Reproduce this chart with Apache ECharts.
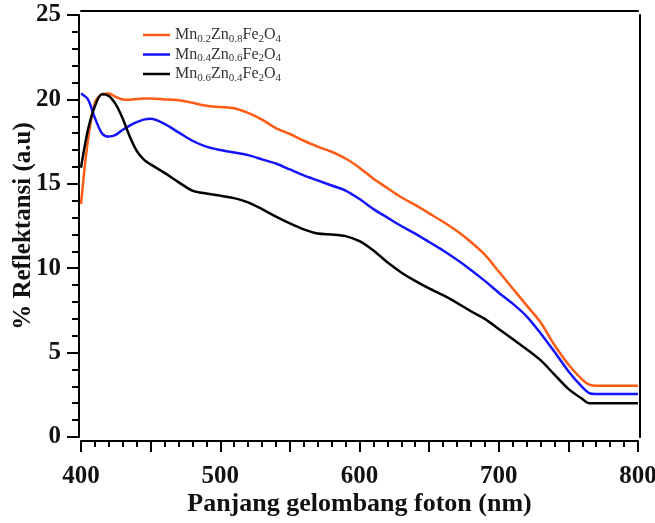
<!DOCTYPE html>
<html>
<head>
<meta charset="utf-8">
<script src="https://cdn.jsdelivr.net/npm/echarts@6/dist/echarts.min.js"></script>
<style>
  html, body { margin: 0; padding: 0; background: #fff; }
  #chart { width: 655px; height: 523px; }
</style>
</head>
<body>
<div id="chart"></div>
<script>
// Wavelength grid (nm)
const wavelengths = [400, 405, 410, 415, 420, 425, 430, 435, 440, 445, 450, 460, 470, 480, 490,
  500, 510, 520, 530, 540, 550, 560, 570, 580, 590, 600, 610, 620, 630, 640, 650, 660, 670, 680,
  690, 700, 710, 720, 730, 740, 750, 760, 765, 770, 780, 790, 800];

// Reflectance values (%)
const mn02 = [13.8, 17.6, 19.8, 20.3, 20.35, 20.15, 20.0, 19.98, 20.02, 20.05, 20.05, 20.0, 19.95,
  19.8, 19.62, 19.55, 19.48, 19.2, 18.8, 18.3, 17.95, 17.55, 17.2, 16.9, 16.5, 15.95, 15.3, 14.75,
  14.2, 13.75, 13.25, 12.75, 12.2, 11.55, 10.8, 9.8, 8.8, 7.8, 6.8, 5.45, 4.3, 3.4, 3.1, 3.03,
  3.03, 3.03, 3.03];
const mn04 = [20.35, 20.0, 18.9, 18.0, 17.8, 17.9, 18.2, 18.45, 18.65, 18.8, 18.85, 18.55, 18.05,
  17.55, 17.2, 17.0, 16.85, 16.7, 16.45, 16.2, 15.85, 15.5, 15.2, 14.9, 14.6, 14.1, 13.5, 13.0,
  12.5, 12.05, 11.55, 11.05, 10.5, 9.9, 9.25, 8.55, 7.9, 7.15, 6.15, 5.05, 3.9, 2.95, 2.6, 2.55,
  2.55, 2.55, 2.55];
const mn06 = [15.95, 18.2, 19.6, 20.3, 20.2, 19.7, 18.85, 17.8, 16.95, 16.45, 16.15, 15.65, 15.1,
  14.6, 14.42, 14.3, 14.15, 13.9, 13.5, 13.05, 12.65, 12.3, 12.05, 12.0, 11.9, 11.6, 11.05, 10.35,
  9.75, 9.25, 8.8, 8.4, 7.95, 7.45, 7.0, 6.4, 5.8, 5.2, 4.55, 3.7, 2.85, 2.25, 2.0, 2.0,
  2.0, 2.0, 2.0];

// Series names and legend text (with subscripts)
const seriesNames = ['Mn0.2Zn0.8Fe2O4', 'Mn0.4Zn0.6Fe2O4', 'Mn0.6Zn0.4Fe2O4'];
const legendRich = [
  '{n|Mn}{s|0.2}{n|Zn}{s|0.8}{n|Fe}{s|2}{n|O}{s|4}',
  '{n|Mn}{s|0.4}{n|Zn}{s|0.6}{n|Fe}{s|2}{n|O}{s|4}',
  '{n|Mn}{s|0.6}{n|Zn}{s|0.4}{n|Fe}{s|2}{n|O}{s|4}'
];
const seriesColors = ['#ff5b14', '#1414ff', '#000000'];
const seriesValues = [mn02, mn04, mn06];

const FONT = '"Liberation Serif", "DejaVu Serif", serif';

const chart = echarts.init(document.getElementById('chart'));

chart.setOption({
  animation: false,
  backgroundColor: '#fff',
  grid: { left: 81, right: 17, top: 15, bottom: 86, outerBoundsMode: 'none', containLabel: false },
  legend: {
    orient: 'vertical',
    left: 138,
    top: 22,
    icon: 'rect',
    itemWidth: 27,
    itemHeight: 2.5,
    itemGap: 2,
    data: seriesNames,
    formatter: name => legendRich[seriesNames.indexOf(name)],
    textStyle: {
      fontFamily: FONT,
      color: '#333',
      rich: {
        n: { fontFamily: FONT, fontSize: 16, color: '#333' },
        s: { fontFamily: FONT, fontSize: 11, color: '#333', padding: [8, 0, 0, 0] }
      }
    }
  },
  xAxis: [{
    type: 'value',
    min: 400,
    max: 800,
    interval: 50,
    offset: 4,
    name: 'Panjang gelombang foton (nm)',
    nameLocation: 'middle',
    nameMoveOverlap: false,
    nameGap: 50,
    nameTextStyle: { fontFamily: FONT, fontSize: 26, fontWeight: 'bold', color: '#111' },
    axisLine: { onZero: false, lineStyle: { color: '#000', width: 2 } },
    axisTick: { length: 11, lineStyle: { color: '#000', width: 2 } },
    minorTick: { show: true, splitNumber: 5, length: 6, lineStyle: { color: '#000', width: 2 } },
    splitLine: { show: false },
    axisLabel: {
      margin: 23,
      fontFamily: FONT, fontSize: 25, fontWeight: 'bold', color: '#111',
      formatter: v => (v % 100 === 0 ? String(v) : '')
    }
  }, {
    type: 'value',
    position: 'top',
    min: 400,
    max: 800,
    offset: 4,
    axisLine: { onZero: false, lineStyle: { color: '#000', width: 2 } },
    axisTick: { show: false },
    axisLabel: { show: false },
    splitLine: { show: false }
  }],
  yAxis: [{
    type: 'value',
    min: 0,
    max: 25,
    interval: 5,
    offset: 2,
    name: '% Reflektansi (a.u)',
    nameLocation: 'middle',
    nameMoveOverlap: false,
    nameGap: 43,
    nameTextStyle: { fontFamily: FONT, fontSize: 25, fontWeight: 'bold', color: '#111' },
    axisLine: { show: true, onZero: false, lineStyle: { color: '#000', width: 2 } },
    axisTick: { show: true, length: 12, lineStyle: { color: '#000', width: 2 } },
    minorTick: { show: true, splitNumber: 5, length: 7, lineStyle: { color: '#000', width: 2 } },
    splitLine: { show: false },
    axisLabel: {
      margin: 18,
      fontFamily: FONT, fontSize: 25, fontWeight: 'bold', color: '#111'
    }
  }, {
    type: 'value',
    position: 'right',
    min: 0,
    max: 25,
    offset: 2,
    axisLine: { show: true, onZero: false, lineStyle: { color: '#000', width: 2 } },
    axisTick: { show: false },
    axisLabel: { show: false },
    splitLine: { show: false }
  }],
  series: seriesNames.map((name, i) => ({
    name: name,
    type: 'line',
    xAxisIndex: 0,
    yAxisIndex: 0,
    symbol: 'none',
    smooth: 0.3,
    color: seriesColors[i],
    lineStyle: { color: seriesColors[i], width: 2.5 },
    data: wavelengths.map((w, k) => [w, seriesValues[i][k]])
  }))
});
</script>
</body>
</html>
